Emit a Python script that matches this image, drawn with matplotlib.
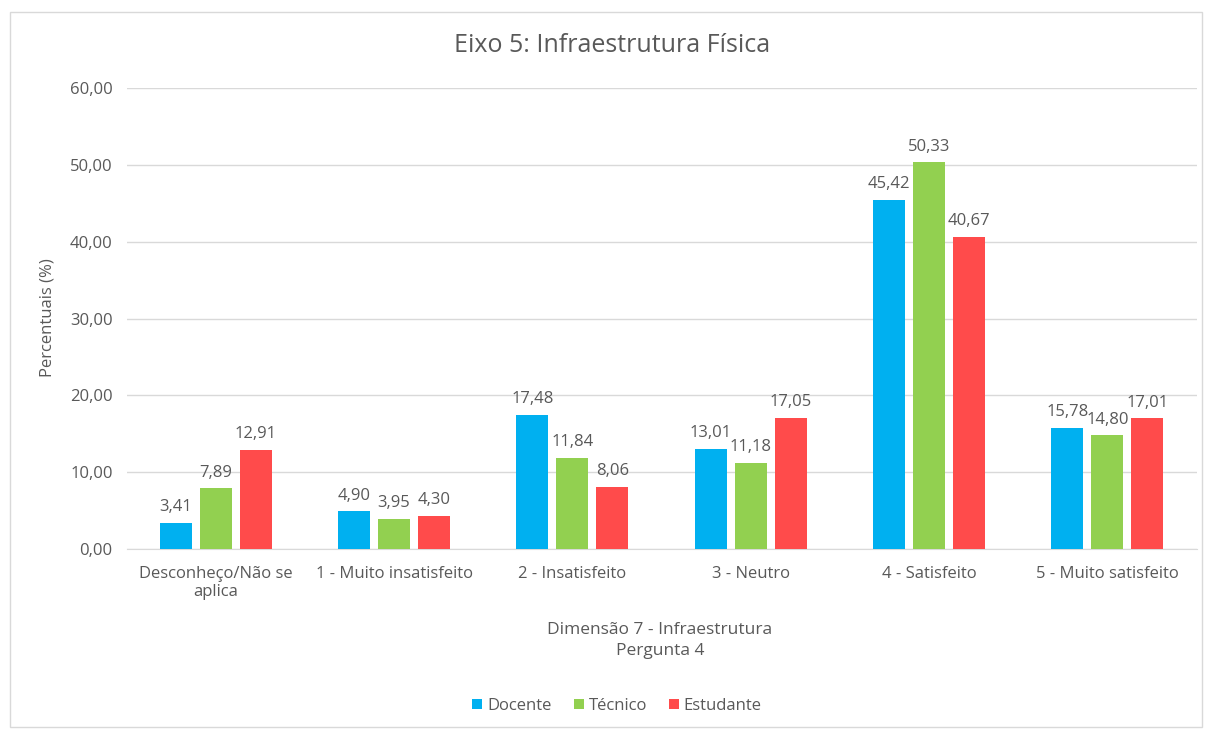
import numpy as np
import matplotlib.pyplot as plt
from matplotlib.patches import Rectangle

categorias = ['Desconheço/Não se\naplica', '1 - Muito insatisfeito', '2 - Insatisfeito',
              '3 - Neutro', '4 - Satisfeito', '5 - Muito satisfeito']
docente = [3.41, 4.90, 17.48, 13.01, 45.42, 15.78]
tecnico = [7.89, 3.95, 11.84, 11.18, 50.33, 14.80]
estudante = [12.91, 4.30, 8.06, 17.05, 40.67, 17.01]
series = [('Docente', docente, '#00B0F0'),
          ('Técnico', tecnico, '#92D050'),
          ('Estudante', estudante, '#FF4B4B')]

plt.rcParams['font.family'] = ['Open Sans', 'DejaVu Sans']
cinza = '#595959'
W, H = 1205, 729

fig = plt.figure(figsize=(W / 100, H / 100), dpi=100)
fig.patches.append(Rectangle((10 / W, 2 / H), 1192 / W, 715 / H,
                             transform=fig.transFigure, fill=False,
                             edgecolor='#D9D9D9', linewidth=1))
ax = fig.add_axes([0.105, 0.247, 0.888, 0.632])

x = np.arange(len(categorias))
largura = 0.18
passo = 0.224
for i, (nome, vals, cor) in enumerate(series):
    pos = x + (i - 1) * passo
    barras = ax.bar(pos, vals, largura, color=cor, label=nome, zorder=3)
    for b, v in zip(barras, vals):
        ax.text(b.get_x() + b.get_width() / 2, v + 1.0, f'{v:.2f}'.replace('.', ','),
                ha='center', va='bottom', fontsize=12, color=cinza)

ax.set_xlim(-0.5, len(categorias) - 0.5)
ax.set_ylim(0, 60)
ticks = np.arange(0, 61, 10)
ax.set_yticks(ticks)
ax.set_yticklabels([f'{t:.2f}'.replace('.', ',') for t in ticks])
ax.set_xticks(x)
ax.set_xticklabels(categorias)
ax.grid(axis='y', color='#D9D9D9', linewidth=1, zorder=0)
for s in ['top', 'right', 'left']:
    ax.spines[s].set_visible(False)
ax.spines['bottom'].set_color('#D9D9D9')
ax.tick_params(length=0, colors=cinza, labelsize=12)
ax.tick_params(axis='y', pad=10)
ax.tick_params(axis='x', pad=12)

fig.text(612 / W, 1 - 45 / H, 'Eixo 5: Infraestrutura Física', fontsize=18,
         color=cinza, ha='center', va='center')
fig.text(48 / W, 1 - 318 / H, 'Percentuais (%)', fontsize=12, color=cinza,
         rotation=90, ha='center', va='center')
fig.text(660 / W, 1 - 640.5 / H, 'Dimensão 7 - Infraestrutura\nPergunta 4', fontsize=12.5,
         color=cinza, ha='center', va='center', multialignment='center', linespacing=1.35)

fig.legend(loc='center', bbox_to_anchor=(617 / W, 1 - 706 / H), ncol=3, frameon=False,
           fontsize=12, labelcolor=cinza, handlelength=0.6, handleheight=0.6,
           handletextpad=0.3, columnspacing=1.3)

fig.savefig('out.png', dpi=100, facecolor='white')
